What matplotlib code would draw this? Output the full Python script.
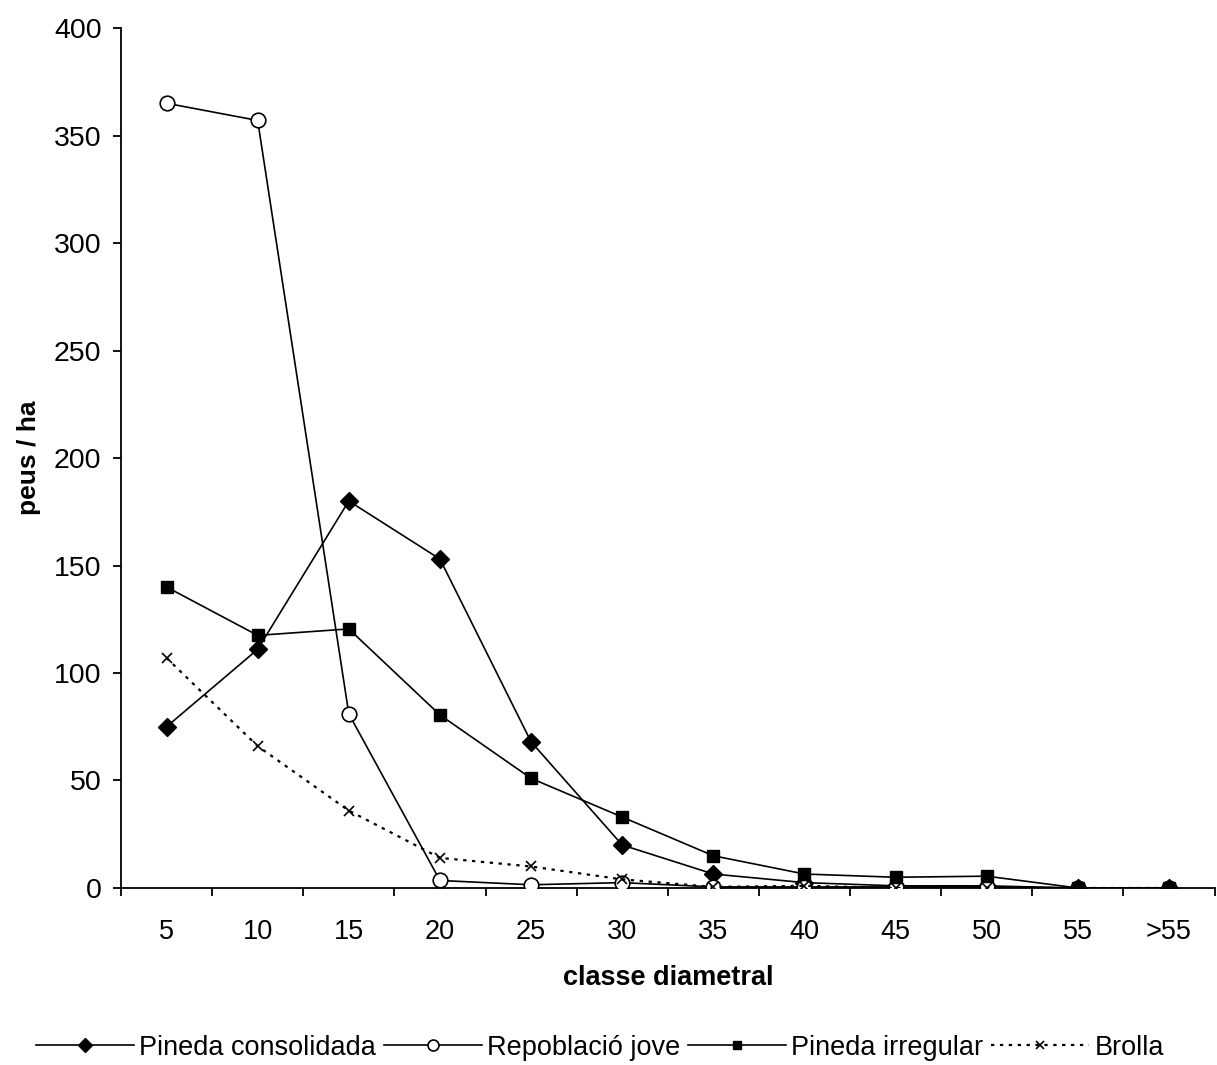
import matplotlib
matplotlib.use("Agg")
import matplotlib.pyplot as plt
import numpy as np

plt.rcParams['font.family'] = ['Liberation Sans', 'DejaVu Sans']

categories = ['5', '10', '15', '20', '25', '30', '35', '40', '45', '50', '55', '>55']
pineda_consolidada = [75, 111, 180, 153, 68, 20, 6.5, 2.5, 1, 1, 0, 0]
repoblacio_jove = [365, 357, 81, 3.5, 1.5, 2.5, 0.5, 0.5, 0.5, 0.5, 0, 0]
pineda_irregular = [140, 117.5, 120.5, 80.5, 51, 33, 15, 6.5, 5, 5.5, 0, 0]
brolla = [107, 66, 36, 14, 10, 4, 0.5, 1, 0, 0, 0, 0]

fig = plt.figure(figsize=(12.17, 10.65), dpi=100)
ax = fig.add_axes([0.0994, 0.1662, 0.8986, 0.8075])

x = np.arange(len(categories))
lw = 1.2
ax.plot(x, pineda_consolidada, color='black', lw=lw, marker='D', markersize=9,
        label='Pineda consolidada', zorder=3)
ax.plot(x, repoblacio_jove, color='black', lw=lw, marker='o', markersize=10.5,
        markerfacecolor='white', markeredgewidth=1.2, label='Repoblació jove', zorder=3)
ax.plot(x, pineda_irregular, color='black', lw=lw, marker='s', markersize=8.5,
        label='Pineda irregular', zorder=3)
ax.plot(x, brolla, color='black', lw=1.6, ls=(0, (1.5, 2.5)), marker='x', markersize=7,
        markeredgewidth=1.2, label='Brolla', zorder=3)

ax.set_xlim(-0.5, len(categories) - 0.5)
ax.set_ylim(0, 400)
ax.set_yticks(np.arange(0, 401, 50))
ax.set_xticks(x)
ax.set_xticklabels(categories)
ax.set_xticks(np.arange(-0.5, len(categories), 1.0), minor=True)
ax.tick_params(axis='x', which='major', length=0, pad=22, labelsize=19.5)
ax.tick_params(axis='x', which='minor', length=6, width=1.3, direction='out')
ax.tick_params(axis='y', length=6, width=1.3, direction='out', labelsize=20.5, pad=8)

for s in ['top', 'right']:
    ax.spines[s].set_visible(False)
for s in ['left', 'bottom']:
    ax.spines[s].set_linewidth(1.3)

ax.set_xlabel('classe diametral', fontsize=19.5, fontweight='bold', labelpad=15)
ax.set_ylabel('peus / ha', fontsize=19, fontweight='bold', labelpad=9)

leg = fig.legend(loc='center', bbox_to_anchor=(0.493, 0.016), ncol=4, frameon=False,
                 fontsize=19.5, handlelength=3.6, columnspacing=0.3, handletextpad=0.2,
                 markerscale=0.75)

fig.savefig('out.png', dpi=100)
